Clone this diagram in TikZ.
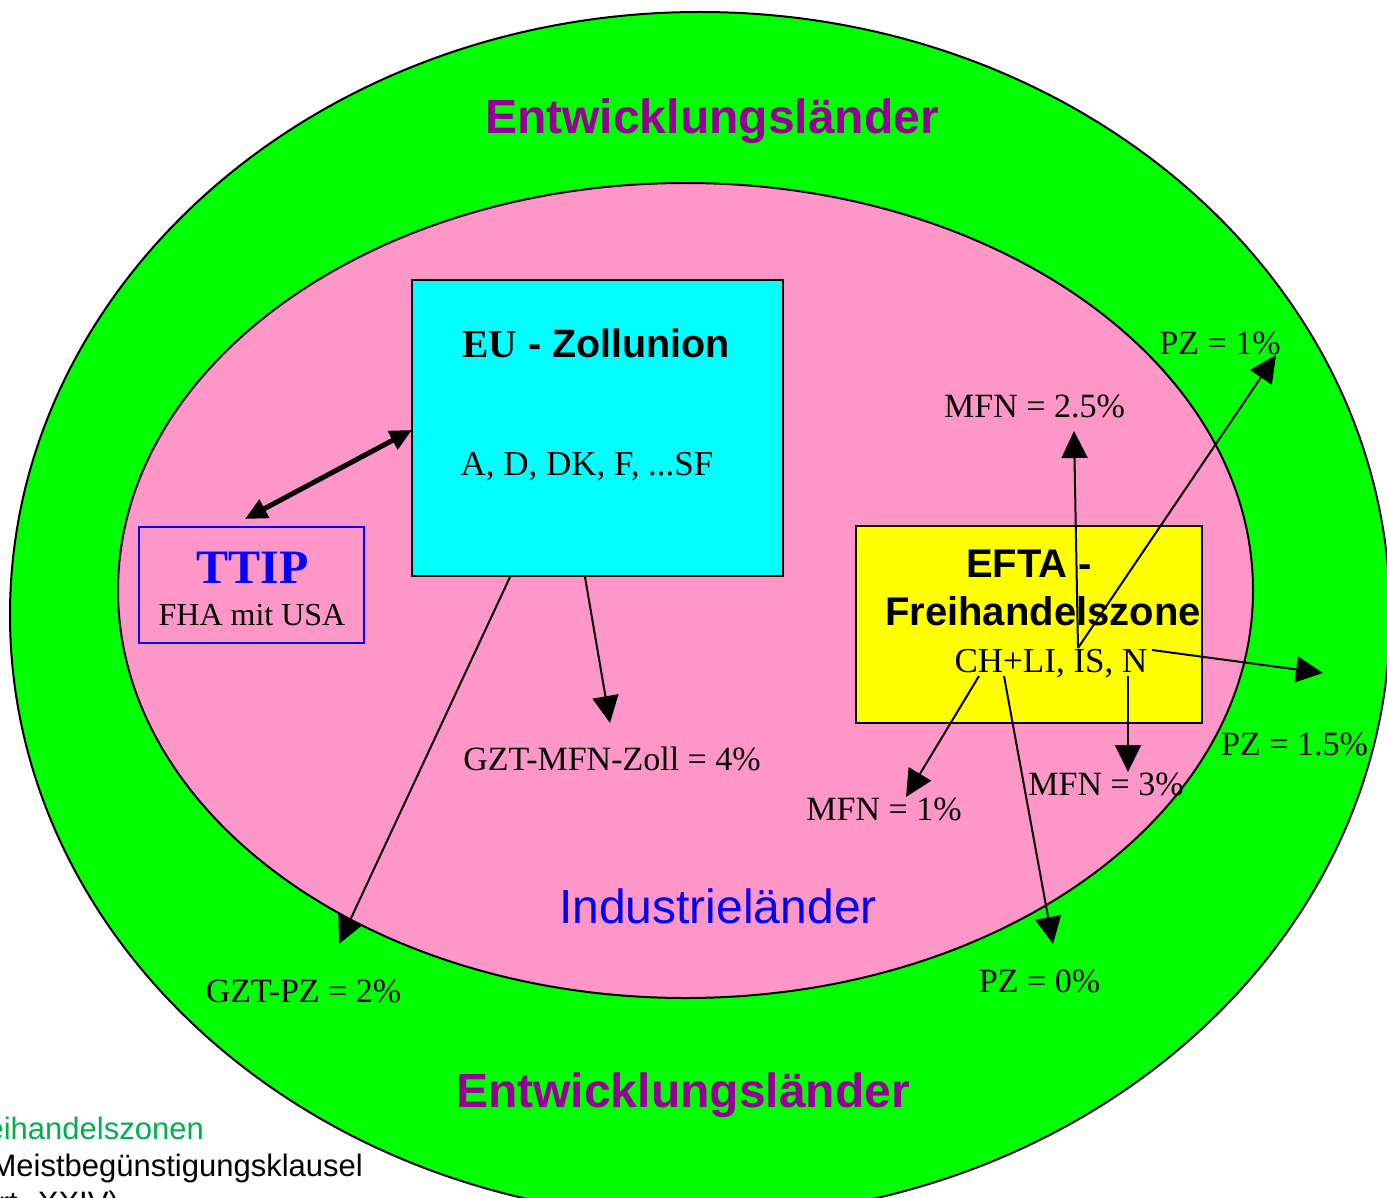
\documentclass[tikz,border=0pt]{standalone}
\usepackage{fontspec}
\setmainfont{Liberation Serif}
\newfontfamily\arialfont{Liberation Sans}
\usetikzlibrary{arrows.meta}
\definecolor{devgreen}{RGB}{0,255,0}
\definecolor{indpink}{RGB}{255,150,200}
\definecolor{eucyan}{RGB}{0,255,255}
\definecolor{eftayellow}{RGB}{255,255,0}
\definecolor{titlepurple}{RGB}{150,0,150}
\definecolor{notegreen}{RGB}{0,176,80}
\begin{document}
\begin{tikzpicture}[x=1pt,y=-1pt,
  lbl/.style={anchor=base,inner sep=0pt,font=\fontsize{34}{40}\selectfont},
  members/.style={anchor=base,inner sep=0pt,font=\fontsize{35}{41}\selectfont},
  bigtitle/.style={anchor=base,inner sep=0pt,text=titlepurple,font=\arialfont\bfseries\fontsize{48}{58}\selectfont},
  boxtitle/.style={anchor=base,inner sep=0pt,font=\arialfont\bfseries\fontsize{40}{47}\selectfont},
  note/.style={anchor=base east,inner sep=0pt,font=\arialfont\fontsize{31}{37}\selectfont},
  areabox/.style={draw=black,line width=2pt,inner sep=0pt},
  conn/.style={line width=2pt,-{Triangle[length=27pt,width=26pt]}},
  dblconn/.style={line width=5pt,{Triangle[length=22pt,width=20pt]}-{Triangle[length=22pt,width=20pt]}}
]
\useasboundingbox (0,0) rectangle (1387,1198);
\fill[white] (0,0) rectangle (1387,1198);

% bottom-left note (partly outside, as in the reference)
\node[note,text=notegreen] (noteA) at (204,1139) {Freihandelszonen};
\node[note] (noteB) at (363,1176) {Meistbegünstigungsklausel};
\node[note] (noteC) at (119,1213) {(Art. XXIV)};

% regions
\draw[line width=2pt,fill=devgreen] (700,615) ellipse [x radius=690pt, y radius=603pt];
\draw[line width=2pt,fill=indpink] (685.5,590.5) ellipse [x radius=567.5pt, y radius=407.5pt];

\node[bigtitle] (devtop) at (712,134) {Entwicklungsländer};
\node[bigtitle] (devbot) at (683,1107) {Entwicklungsländer};
\node[anchor=base,inner sep=0pt,text=blue,font=\arialfont\fontsize{48}{58}\selectfont] (ind) at (718,923) {Industrieländer};

% boxes
\node[areabox,fill=eucyan,minimum width=371pt,minimum height=296pt] (eu) at (597.5,428) {};
\node[draw=blue,line width=2pt,inner sep=0pt,minimum width=225pt,minimum height=116pt] (ttip) at (251.5,585) {};
\node[areabox,fill=eftayellow,minimum width=346pt,minimum height=197pt] (efta) at (1029,624.5) {};

% box texts
\node[anchor=base,inner sep=0pt] (eutitle) at (596,357) {\fontsize{39.5}{46}\selectfont\bfseries EU\arialfont\ - Zollunion};
\node[members] (eumembers) at (587,475) {A, D, DK, F, ...SF};
\node[anchor=base,inner sep=0pt,text=blue,font=\bfseries\fontsize{48}{58}\selectfont] (ttiptitle) at (252.5,583) {TTIP};
\node[anchor=base,inner sep=0pt,font=\fontsize{32}{38}\selectfont] (ttipsub) at (252,625) {FHA mit USA};
\node[boxtitle] (eftaA) at (1029,577) {EFTA -};
\node[boxtitle] (eftaB) at (1043,625) {Freihandelszone};
\node[members] (eftamembers) at (1051,672) {CH+LI, IS, N};

% rate labels
\node[lbl] (pz1) at (1220,355) {PZ = 1\%};
\node[lbl] (mfn25) at (1034.5,417) {MFN = 2.5\%};
\node[lbl] (gztmfn) at (612,770) {GZT-MFN-Zoll = 4\%};
\node[lbl] (mfn1) at (884,820) {MFN = 1\%};
\node[lbl] (mfn3) at (1106,795) {MFN = 3\%};
\node[lbl] (pz15) at (1294.5,755) {PZ = 1.5\%};
\node[lbl] (pz0) at (1039.5,992) {PZ = 0\%};
\node[lbl] (gztpz) at (303.5,1002) {GZT-PZ = 2\%};

% connector end points
\coordinate (dA) at (245,519);
\coordinate (dB) at (412,430);
\coordinate (euL) at (510,577);
\coordinate (euR) at (585,577);
\coordinate (tGZTPZ) at (339,944);
\coordinate (tGZTMFN) at (610,723);
\coordinate (sIS) at (1078,648);
\coordinate (tMFN25) at (1074,431);
\coordinate (tPZ1) at (1276,355);
\coordinate (sN1) at (1152,650);
\coordinate (tPZ15) at (1323,673);
\coordinate (sN2) at (1128,676);
\coordinate (tMFN3) at (1128,772);
\coordinate (sCH) at (979,676);
\coordinate (tMFN1) at (906,797);
\coordinate (sLI) at (1004,676);
\coordinate (tPZ0) at (1053,944);

% connectors
\draw[dblconn] (dA) -- (dB);
\draw[conn] (euL) -- (tGZTPZ);
\draw[conn] (euR) -- (tGZTMFN);
\draw[conn] (sIS) -- (tMFN25);
\draw[conn] (sIS) -- (tPZ1);
\draw[conn] (sN1) -- (tPZ15);
\draw[conn] (sN2) -- (tMFN3);
\draw[conn] (sCH) -- (tMFN1);
\draw[conn] (sLI) -- (tPZ0);
\end{tikzpicture}
\end{document}
